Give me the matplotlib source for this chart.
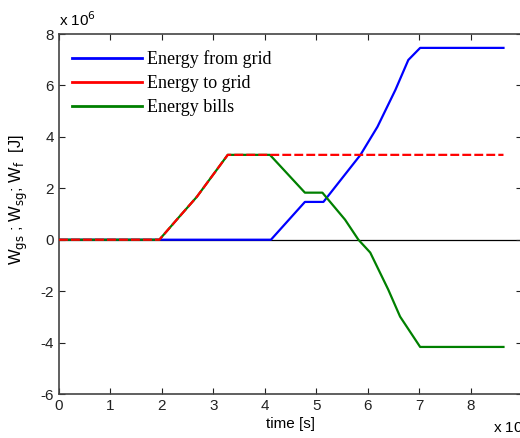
import matplotlib.pyplot as plt
from matplotlib.lines import Line2D

# time in units of 1e4 s, energy in units of 1e6 J
t_from = [0, 4.12, 4.78, 5.14, 5.86, 6.19, 6.54, 6.79, 7.02, 8.64]
w_from = [0, 0, 1.47, 1.47, 3.30, 4.39, 5.83, 6.99, 7.46, 7.46]

t_to = [0, 1.95, 2.32, 2.68, 3.28, 8.64]
w_to = [0, 0, 0.85, 1.67, 3.30, 3.30]

t_bill = [0, 1.95, 2.32, 2.68, 3.28, 4.10, 4.78, 5.12, 5.56, 5.82, 6.05, 6.40, 6.63, 7.02, 8.64]
w_bill = [0, 0, 0.85, 1.67, 3.30, 3.30, 1.83, 1.83, 0.78, 0.0, -0.50, -1.94, -2.99, -4.17, -4.17]

xticks = [0, 1, 2, 3, 4, 5, 6, 7, 8]
yticks = [-6, -4, -2, 0, 2, 4, 6, 8]
labels = ['Energy from grid', 'Energy to grid', 'Energy bills']

plt.rcParams['font.family'] = ['Liberation Sans', 'DejaVu Sans']
plt.rcParams['axes.unicode_minus'] = False

fig = plt.figure(figsize=(5.2, 4.38), dpi=100)
ax = fig.add_axes([59 / 520, 44 / 438, 463 / 520, 360 / 438])

ax.axhline(0, color='black', lw=0.9, zorder=1)
ax.plot(t_from, w_from, color='#0000ff', lw=1.6, zorder=2)
ax.plot(t_bill, w_bill, color='#008000', lw=1.6, zorder=3)
ax.plot(t_to, w_to, color='#ff0000', lw=1.6, ls=(0, (4.0, 1.4)), zorder=4)

ax.set_xlim(0, 9)
ax.set_ylim(-6, 8)
ax.set_xticks(xticks)
ax.set_yticks(yticks)
ax.tick_params(direction='in', length=4, top=True, right=True,
               labelsize=11, colors='#222222', width=0.8)
for s in ax.spines.values():
    s.set_color('#444444')
    s.set_linewidth(1.2)

ax.set_xlabel('time [s]', fontsize=11, labelpad=3)
ax.set_ylabel(r'W$_{\rm gs}$ ; W$_{\rm sg}$; W$_{\rm f}$  [J]', fontsize=12)
ax.yaxis.set_label_coords(-0.062, 0.54)

ax.text(0, 1.015, r'x 10$^{6}$', transform=ax.transAxes, fontsize=11, va='bottom')
fig.text(493 / 520, 2 / 438, r'x 10$^{4}$', fontsize=11, va='bottom')

handles = [Line2D([], [], color=c, lw=2) for c in ['#0000ff', '#ff0000', '#008000']]
ax.legend(handles, labels, loc='upper left', frameon=False,
          prop={'family': 'Liberation Serif', 'size': 13},
          handlelength=3.9, handletextpad=0.3, labelspacing=0.38,
          borderaxespad=0.3, bbox_to_anchor=(0.0, 0.99))

fig.savefig('out.png', dpi=100)
